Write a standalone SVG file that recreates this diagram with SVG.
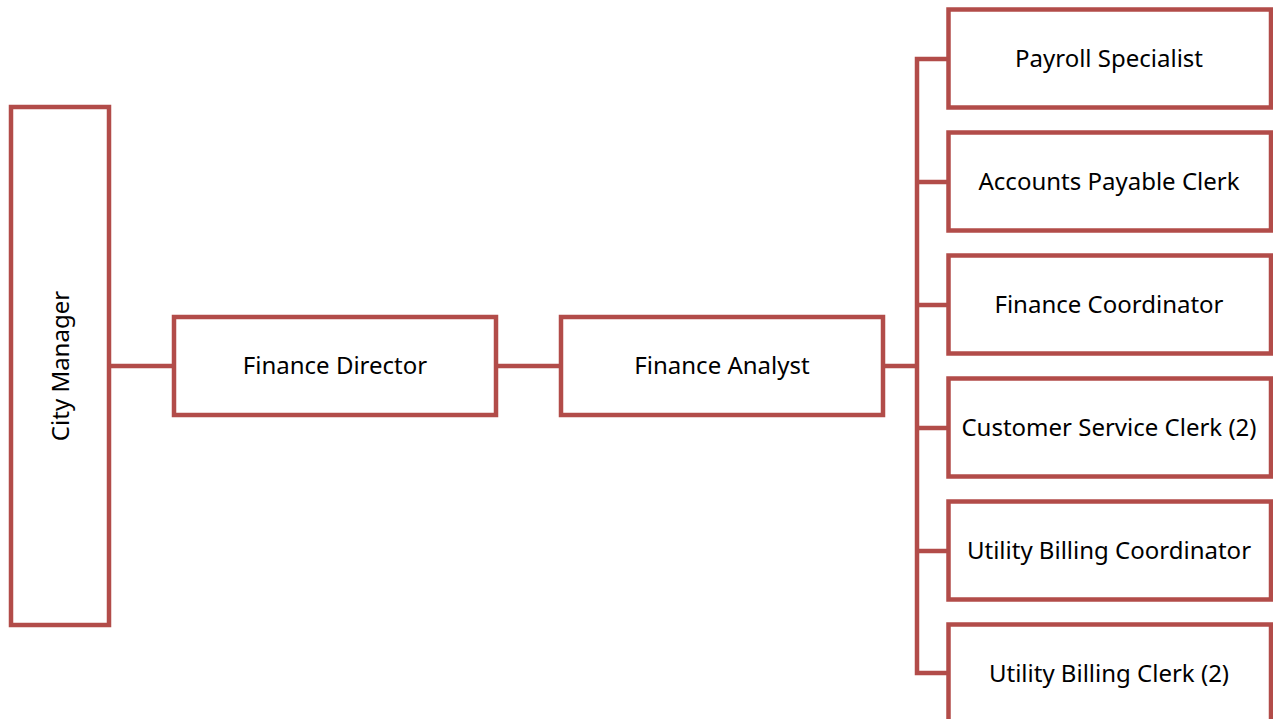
<svg xmlns="http://www.w3.org/2000/svg" width="1273" height="719" viewBox="0 0 1273 719">
<style>
.box{fill:#fff;stroke:#B24C49;stroke-width:4.5;}
.ln{fill:none;stroke:#B24C49;stroke-width:4.5;}
text{font-family:"Noto Sans","Liberation Sans",Arial,sans-serif;font-size:24px;fill:#000;text-anchor:middle;dominant-baseline:central;}
</style>
<rect width="1273" height="719" fill="#fff"/>
<g id="connectors">
<path class="ln" d="M109 366H174"/>
<path class="ln" d="M496 366H561"/>
<path class="ln" d="M883 366H917"/>
<path class="ln" d="M948.5 59H917V673H948.5"/>
<path class="ln" d="M917 182H948.5M917 305H948.5M917 428H948.5M917 551H948.5"/>
</g>
<g id="city-manager"><rect class="box" x="11" y="107" width="98" height="518"/><text transform="translate(59 366) rotate(-90)">City Manager</text></g>
<g id="finance-director"><rect class="box" x="174" y="317" width="322" height="98"/><text x="335" y="364.5">Finance Director</text></g>
<g id="finance-analyst"><rect class="box" x="561" y="317" width="322" height="98"/><text x="722" y="364.5">Finance Analyst</text></g>
<g id="payroll"><rect class="box" x="948.5" y="9.5" width="322.5" height="98"/><text x="1109" y="57.5">Payroll Specialist</text></g>
<g id="ap-clerk"><rect class="box" x="948.5" y="132.5" width="322.5" height="98"/><text x="1109" y="180.5">Accounts Payable Clerk</text></g>
<g id="fin-coord"><rect class="box" x="948.5" y="255.5" width="322.5" height="98"/><text x="1109" y="303.5">Finance Coordinator</text></g>
<g id="cs-clerk"><rect class="box" x="948.5" y="378.5" width="322.5" height="98"/><text x="1109" y="426.5">Customer Service Clerk (2)</text></g>
<g id="ub-coord"><rect class="box" x="948.5" y="501.5" width="322.5" height="98"/><text x="1109" y="549.5">Utility Billing Coordinator</text></g>
<g id="ub-clerk"><rect class="box" x="948.5" y="624.5" width="322.5" height="98"/><text x="1109" y="672.5">Utility Billing Clerk (2)</text></g>
</svg>
